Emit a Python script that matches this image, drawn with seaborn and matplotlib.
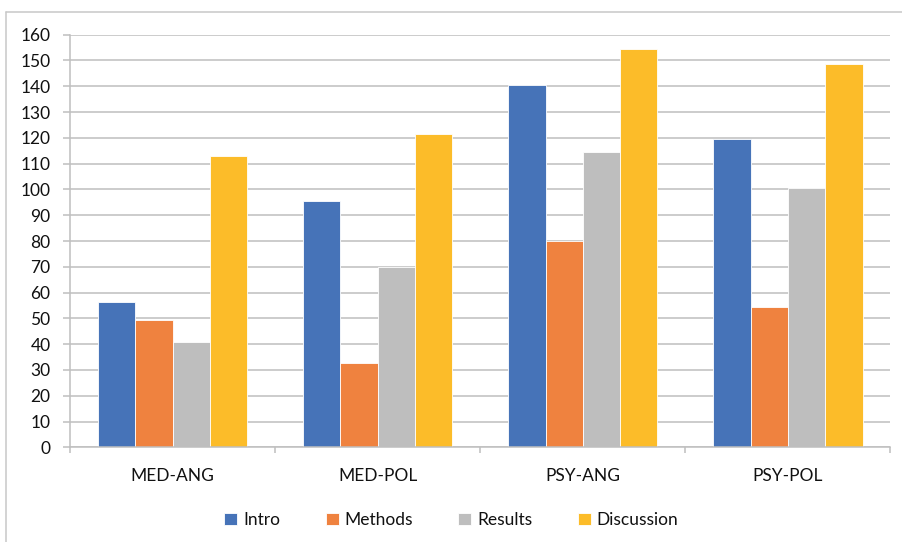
import matplotlib
matplotlib.use("Agg")
import matplotlib.pyplot as plt
from matplotlib.lines import Line2D
from matplotlib.ticker import FixedLocator, MultipleLocator
import seaborn as sns
import pandas as pd

categories = ["MED-ANG", "MED-POL", "PSY-ANG", "PSY-POL"]
series = ["Intro", "Methods", "Results", "Discussion"]
intro = [56.3, 95.4, 140.4, 119.6]
methods = [49.4, 32.8, 80.1, 54.3]
results = [40.9, 69.9, 114.4, 100.5]
discussion = [112.8, 121.6, 154.4, 148.8]
colors = ["#4673B8", "#EF823F", "#BEBEBE", "#FCBC29"]

rows = []
for s, vals in zip(series, [intro, methods, results, discussion]):
    for c, v in zip(categories, vals):
        rows.append({"cat": c, "series": s, "value": v})
df = pd.DataFrame(rows)

sns.set_theme(style="white")
plt.rcParams["font.family"] = ["Lato", "DejaVu Sans"]

fig = plt.figure(figsize=(9.03, 5.42), dpi=100)
ax = fig.add_axes([70 / 903, 1 - 447.3 / 542, (890.5 - 70) / 903, (447.3 - 34.7) / 542])

sns.barplot(data=df, x="cat", y="value", hue="series", order=categories,
            hue_order=series, palette=colors, width=4 / 5.5, ax=ax,
            edgecolor="white", linewidth=0.6, legend=True, saturation=1)

ax.set_ylim(0, 160)
ax.set_xlim(-0.5, 3.5)
ax.yaxis.set_major_locator(MultipleLocator(10))
ax.yaxis.grid(True, color="#BFBFBF", linewidth=1.1)
ax.set_axisbelow(True)
ax.set_xlabel("")
ax.set_ylabel("")

for side in ["top", "right"]:
    ax.spines[side].set_visible(False)
for side in ["left", "bottom"]:
    ax.spines[side].set_color("#BFBFBF")
    ax.spines[side].set_linewidth(1.1)

ax.tick_params(axis="y", length=5, color="#BFBFBF", width=1.1, labelsize=12.5,
               pad=9, labelcolor="#111111", left=True)
ax.tick_params(axis="x", which="major", length=0, labelsize=12.5, pad=15,
               labelcolor="#111111")
ax.xaxis.set_minor_locator(FixedLocator([-0.5, 0.5, 1.5, 2.5, 3.5]))
ax.tick_params(axis="x", which="minor", length=4, color="#BFBFBF", width=1.1,
               bottom=True)

handles, labels = ax.get_legend_handles_labels()
ax.legend(handles, labels, loc="center", bbox_to_anchor=(0.5, (542 - 520) / 542),
          bbox_transform=fig.transFigure, ncol=4, frameon=False, fontsize=12.5,
          handlelength=0.75, handleheight=0.75, handletextpad=0.35,
          columnspacing=2.6, labelcolor="#111111")

fig.add_artist(Line2D([6 / 903, 6 / 903], [0, 1 - 12 / 542], color="#C8C8C8",
                      linewidth=1.1, transform=fig.transFigure))
fig.add_artist(Line2D([6 / 903, 1], [1 - 12 / 542, 1 - 12 / 542], color="#C8C8C8",
                      linewidth=1.1, transform=fig.transFigure))

fig.savefig("out.png", dpi=100, facecolor="white")
